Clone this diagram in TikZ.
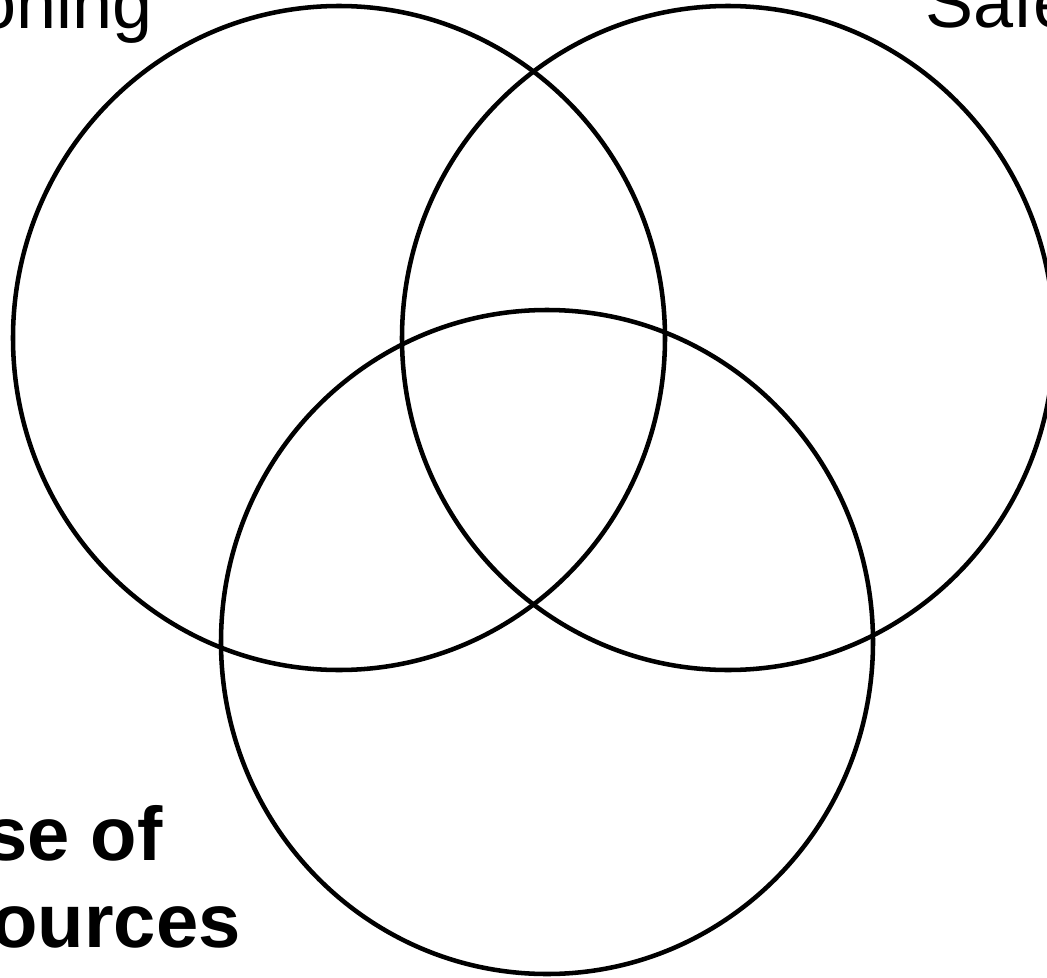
\documentclass[tikz,border=0pt]{standalone}
\usepackage{fontspec}
\setmainfont{Liberation Sans}

\begin{document}
\begin{tikzpicture}[x=0.75pt, y=-0.75pt, line width=3.4pt]
  \useasboundingbox (0,0) rectangle (1047,978);
  \draw (339,338) ellipse (326 and 332);
  \draw (728,338) ellipse (326 and 332);
  \draw (547,642) ellipse (326 and 332);
  \node[anchor=base east, inner sep=0pt, font=\fontsize{54}{65}\selectfont] (pos) at (155,28) {oning};
  \node[anchor=base west, inner sep=0pt, font=\fontsize{54}{65}\selectfont] (saf) at (923,27) {Safe};
  \node[anchor=base east, inner sep=0pt, font=\fontsize{57}{65}\selectfont\bfseries] (use) at (165,860) {se of};
  \node[anchor=base east, inner sep=0pt, font=\fontsize{57}{65}\selectfont\bfseries] (res) at (243,947) {ources};
\end{tikzpicture}
\end{document}
